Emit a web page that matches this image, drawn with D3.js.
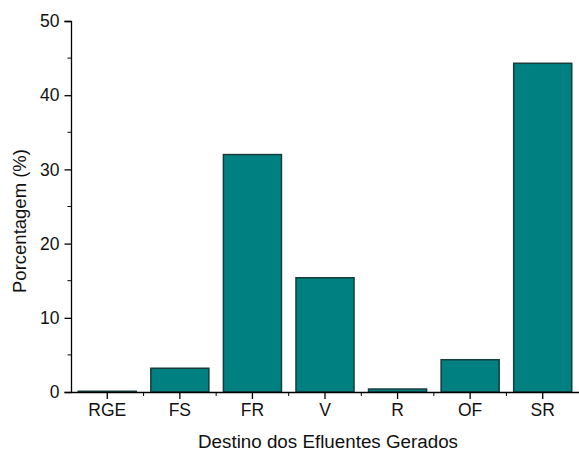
<!DOCTYPE html>
<html>
<head>
<meta charset="utf-8">
<script src="https://cdn.jsdelivr.net/npm/d3@7"></script>
<style>
  html, body { margin: 0; padding: 0; background: #fff; }
  svg { display: block; font-family: Arial, "Liberation Sans", sans-serif; }
</style>
</head>
<body>
<svg id="chart" width="579" height="452"></svg>
<script>
// Destino dos efluentes gerados (%)
const categories = ["RGE", "FS", "FR", "V", "R", "OF", "SR"];
const percentages = [0.1, 3.2, 32.0, 15.4, 0.4, 4.35, 44.3];
const yTicks = [0, 10, 20, 30, 40, 50];
const yMinorTicks = [5, 15, 25, 35, 45];

const svg = d3.select("#chart");
const W = 579;
const x0 = 71, x1 = W;
const yTop = 21, yBottom = 392;

const x = d3.scaleBand().domain(categories).range([x0, x1]).paddingInner(0.2).paddingOuter(0.1);
const y = d3.scaleLinear().domain([0, 50]).range([yBottom, yTop]);

// bars
svg.append("g").selectAll("rect")
  .data(categories.map((c, i) => ({ c, v: percentages[i] })))
  .join("rect")
  .attr("x", d => x(d.c))
  .attr("width", x.bandwidth())
  .attr("y", d => y(d.v))
  .attr("height", d => y(0) - y(d.v))
  .attr("fill", "#008080")
  .attr("stroke", "#163c3c")
  .attr("stroke-width", 1.5);

// y axis
const yAxis = svg.append("g").attr("transform", `translate(${x0},0)`)
  .call(d3.axisLeft(y).tickValues(yTicks).tickSize(6.5).tickPadding(5).tickFormat(d3.format("d")));
yAxis.append("g").selectAll("line").data(yMinorTicks).join("line")
  .attr("x1", 0).attr("x2", -3.5).attr("y1", d => y(d)).attr("y2", d => y(d))
  .attr("stroke", "#000");

// x axis with ticks at category centers and minor ticks at boundaries
const step = x.step();
const xAxis = svg.append("g").attr("transform", `translate(0,${yBottom})`)
  .call(d3.axisBottom(x).tickSize(7).tickPadding(5).tickSizeOuter(0));
const boundaries = categories.slice(1).map(c => x(c) - step * x.paddingInner() / 2);
xAxis.append("g").selectAll("line").data(boundaries).join("line")
  .attr("x1", d => d).attr("x2", d => d).attr("y1", 0).attr("y2", 4)
  .attr("stroke", "#000");

[yAxis, xAxis].forEach(g => {
  g.attr("font-size", null).attr("font-family", null);
  g.select(".domain").attr("stroke", "#000").attr("stroke-width", 1.3);
  g.selectAll(".tick line").attr("stroke", "#000").attr("stroke-width", 1.3);
  g.selectAll(".tick text").attr("fill", "#111").style("font-size", "17.5px");
});

// axis titles
svg.append("text")
  .attr("x", 328).attr("y", 448)
  .attr("text-anchor", "middle").attr("fill", "#111")
  .style("font-size", "18.8px")
  .text("Destino dos Efluentes Gerados");

svg.append("text")
  .attr("transform", `translate(26,221) rotate(-90)`)
  .attr("text-anchor", "middle").attr("fill", "#111")
  .style("font-size", "18.5px")
  .text("Porcentagem (%)");
</script>
</body>
</html>
